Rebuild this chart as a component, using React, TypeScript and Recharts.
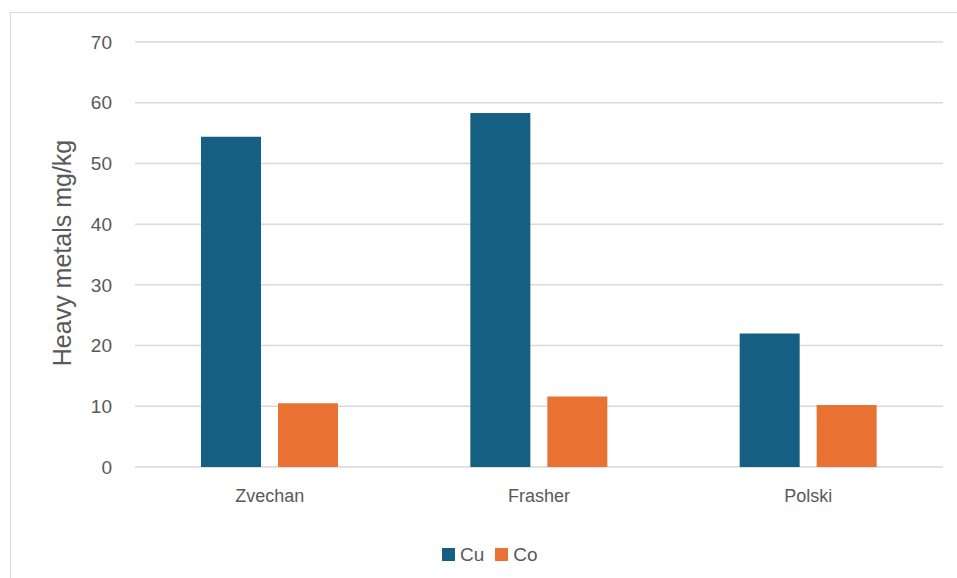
import { Bar, BarChart, CartesianGrid, Legend, XAxis, YAxis } from "recharts";

const sites = ["Zvechan", "Frasher", "Polski"];
const cu = [54.4, 58.3, 22.0];
const co = [10.5, 11.6, 10.2];
const yTicks = [0, 10, 20, 30, 40, 50, 60, 70];

const series = [
  { key: "Cu", color: "#156082" },
  { key: "Co", color: "#E97132" },
];

const chartData = sites.map((site, i) => ({ site, Cu: cu[i], Co: co[i] }));

const font = "'Liberation Sans', Arial, sans-serif";
const textColor = "#595959";

function LegendItems() {
  return (
    <div style={{ height: 61, display: "flex", paddingTop: 14, boxSizing: "border-box", fontFamily: font }}>
      {series.map((s) => (
        <div key={s.key} style={{ display: "flex", alignItems: "center", marginRight: 11 }}>
          <span style={{ width: 13, height: 13, background: s.color, display: "inline-block", marginRight: 5 }} />
          <span style={{ fontSize: 19, color: textColor, lineHeight: "19px" }}>{s.key}</span>
        </div>
      ))}
    </div>
  );
}

export default function App() {
  return (
    <div style={{ position: "absolute", left: 0, top: 0, width: 957, height: 578, background: "#fff" }}>
      <div
        style={{
          position: "absolute",
          left: 10,
          top: 12,
          width: 960,
          height: 580,
          borderTop: "1px solid #d9d9d9",
          borderLeft: "1px solid #d9d9d9",
        }}
      />
      <BarChart
        width={957}
        height={578}
        data={chartData}
        margin={{ top: 42, right: 14, bottom: 0, left: 0 }}
        barSize={60}
        barGap={17}
        style={{ position: "absolute", left: 0, top: 0 }}
      >
        <CartesianGrid vertical={false} stroke="#d9d9d9" strokeWidth={1.5} />
        <XAxis
          dataKey="site"
          height={50}
          axisLine={false}
          tickLine={false}
          tickMargin={16}
          tick={{ fill: textColor, fontSize: 18, fontFamily: font }}
        />
        <YAxis
          width={135}
          domain={[0, 70]}
          ticks={yTicks}
          axisLine={false}
          tickLine={false}
          tickMargin={17}
          tick={{ fill: textColor, fontSize: 19, fontFamily: font }}
          label={{
            content: () => (
              <text
                x={71}
                y={253}
                transform="rotate(-90, 71, 253)"
                textAnchor="middle"
                fill={textColor}
                fontSize={25}
                fontFamily={font}
              >
                Heavy metals mg/kg
              </text>
            ),
          }}
        />
        <Legend
          verticalAlign="bottom"
          content={() => <LegendItems />}
          wrapperStyle={{ left: 442, width: 200 }}
        />
        {series.map((s) => (
          <Bar key={s.key} dataKey={s.key} fill={s.color} isAnimationActive={false} />
        ))}
      </BarChart>
    </div>
  );
}
